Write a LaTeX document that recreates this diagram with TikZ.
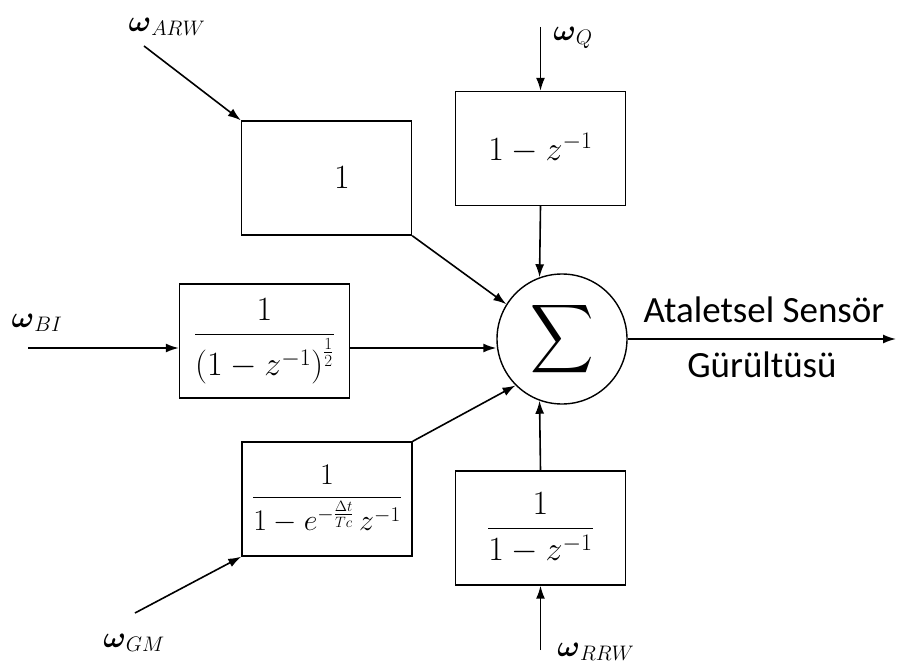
\RequirePackage{fix-cm}
\documentclass[tikz,border=0pt]{standalone}
\usepackage{amsmath}
\usepackage{fontspec}
\newfontfamily\calibri{Carlito}
\usetikzlibrary{arrows.meta}

\tikzset{
  block/.style={draw, line width=1.4pt, minimum width=170pt, minimum height=114pt,
    inner sep=0pt, font=\fontsize{34}{38}\selectfont},
  summer/.style={draw, circle, line width=1.4pt, minimum size=130pt, inner sep=0pt},
  signal/.style={line width=1.6pt, -{Latex[length=13pt,width=9pt]}},
  noise/.style={inner sep=0pt, font=\fontsize{30}{32}\selectfont},
  outtext/.style={inner sep=0pt, font=\calibri\fontsize{37}{40}\selectfont}
}

\begin{document}
\begin{tikzpicture}[x=1pt, y=-1pt]
  \useasboundingbox (0,0) rectangle (897,671);
  % blocks
  \node[block] (arw) at (326.5,178) {\hspace*{31pt}$1$};
  \node[block] (q) at (540.5,148.5) {$1-z^{-1}$};
  \node[block] (bi) at (264.5,341) {$\dfrac{1}{\left(1-z^{-1}\right)^{\frac{1}{2}}}$};
  \node[block, font=\fontsize{30}{34}\selectfont] (gm) at (327,499)
    {$\dfrac{1}{\rule{0pt}{30pt}1-e^{-\frac{\Delta t}{Tc}}\,z^{-1}}$};
  \node[block] (rrw) at (540.5,528) {$\dfrac{1}{1-z^{-1}}$};
  \node[summer] (sum) at (562,339) {\scalebox{4.4}[4.8]{$\displaystyle\sum$}};
  % inputs
  \coordinate (arw-in) at (144,46);
  \coordinate (q-in) at (540.5,27);
  \coordinate (bi-in) at (28,348);
  \coordinate (gm-in) at (135,613);
  \coordinate (rrw-in) at (540.5,650);
  \coordinate (out) at (896,339);
  \node[noise] (w-arw) at (167,27) {$\boldsymbol{\omega}_{ARW}$};
  \node[noise] (w-q) at (573,38) {$\boldsymbol{\omega}_{Q}$};
  \node[noise] (w-bi) at (37,323) {$\boldsymbol{\omega}_{BI}$};
  \node[noise] (w-gm) at (134,643) {$\boldsymbol{\omega}_{GM}$};
  \node[noise] (w-rrw) at (596,652) {$\boldsymbol{\omega}_{RRW}$};
  \draw[signal] (arw-in) -- (arw.north west);
  \draw[signal] (q-in) -- (q.north);
  \draw[signal] (bi-in) -- (bi-in -| bi.west);
  \draw[signal] (gm-in) -- (gm.south west);
  \draw[signal] (rrw-in) -- (rrw.south);
  % into the sum
  \draw[signal] (arw.south east) -- (sum.148);
  \draw[signal] (q.south) -- (sum.110);
  \draw[signal] (bi-in -| bi.east) -- (bi-in -| sum.west);
  \draw[signal] (gm.north east) -- (sum.225);
  \draw[signal] (rrw.north) -- (sum.250);
  % output
  \draw[signal] (sum.east) -- (out);
  \node[outtext] (o1) at (764,310) {Ataletsel Sensör};
  \node[outtext] (o2) at (762,365) {Gürültüsü};
\end{tikzpicture}
\end{document}
